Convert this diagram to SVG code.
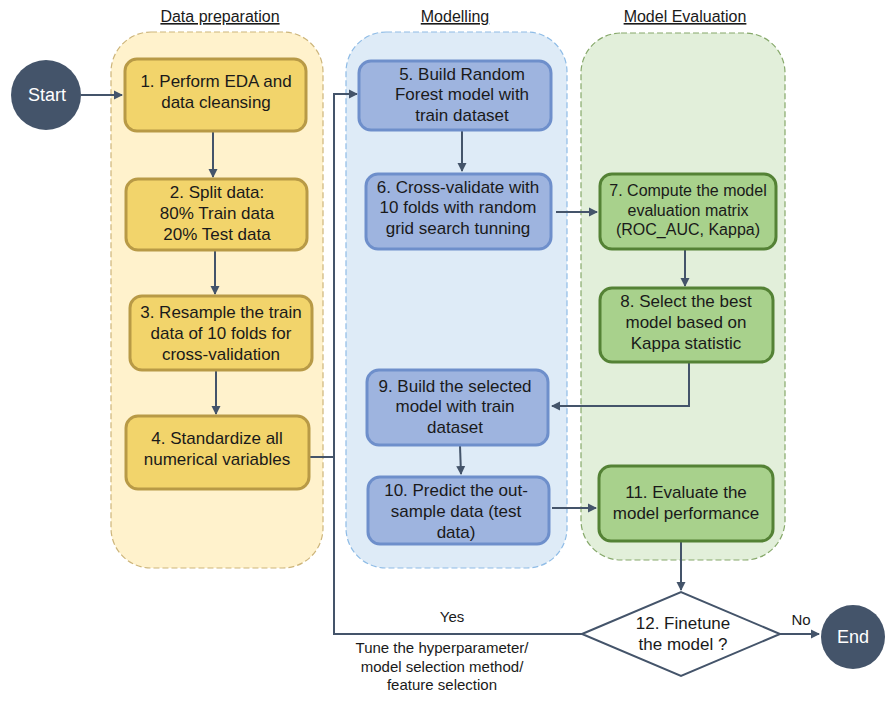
<svg xmlns="http://www.w3.org/2000/svg" width="889" height="703" viewBox="0 0 889 703">
  <defs>
    <marker id="arr" markerWidth="10" markerHeight="10" refX="8" refY="5" orient="auto" markerUnits="userSpaceOnUse">
      <path d="M0,0.5 L9,5 L0,9.5 Z" fill="#44546A"/>
    </marker>
    <style>
      text { font-family: "Liberation Sans", Arial, sans-serif; fill: #1a1a1a; text-anchor: middle; }
      .t { font-size: 17px; }
      .s { font-size: 16px; }
      .lbl { font-size: 15px; }
      .title { font-size: 16px; text-decoration: underline; }
      .term { font-size: 18px; fill: #ffffff; }
      .panel { stroke-width: 1.2; stroke-dasharray: 6 3; }
      .yel { fill: #F2D46B; stroke: #B89A46; stroke-width: 3; }
      .blu { fill: #9EB4DF; stroke: #6E8FCB; stroke-width: 3; }
      .grn { fill: #A8D18C; stroke: #548235; stroke-width: 3; }
      .conn path, .conn line { fill: none; stroke: #44546A; stroke-width: 2; }
    </style>
  </defs>

  <rect width="889" height="703" fill="#ffffff"/>

  <!-- swimlane panels -->
  <g id="lane-prep">
    <rect class="panel" x="111" y="32" width="212" height="536" rx="40" fill="#FFF2CC" stroke="#CDB57A"/>
    <text class="title" x="220" y="22">Data preparation</text>
  </g>
  <g id="lane-model">
    <rect class="panel" x="346" y="32" width="221" height="536" rx="40" fill="#DEEBF7" stroke="#8FBCE6"/>
    <text class="title" x="455" y="22">Modelling</text>
  </g>
  <g id="lane-eval">
    <rect class="panel" x="581" y="33" width="204" height="527" rx="40" fill="#E2EFDA" stroke="#86A86A"/>
    <text class="title" x="685" y="22">Model Evaluation</text>
  </g>

  <!-- connectors -->
  <g id="connectors" class="conn">
    <line x1="81" y1="95" x2="122" y2="95" marker-end="url(#arr)"/>
    <line x1="213" y1="131" x2="213" y2="177" marker-end="url(#arr)"/>
    <line x1="215" y1="250" x2="215" y2="294" marker-end="url(#arr)"/>
    <line x1="216" y1="370" x2="216" y2="414" marker-end="url(#arr)"/>
    <path d="M309,457 H334"/>
    <path d="M582,634 H334 V94 H357" marker-end="url(#arr)"/>
    <line x1="462" y1="130" x2="462" y2="171" marker-end="url(#arr)"/>
    <line x1="556" y1="212" x2="597" y2="212" marker-end="url(#arr)"/>
    <line x1="685" y1="249" x2="685" y2="286" marker-end="url(#arr)"/>
    <path d="M689,362 V406 H552" marker-end="url(#arr)"/>
    <line x1="460" y1="446" x2="461" y2="474" marker-end="url(#arr)"/>
    <line x1="552" y1="508" x2="596" y2="508" marker-end="url(#arr)"/>
    <line x1="681" y1="542" x2="681" y2="590" marker-end="url(#arr)"/>
    <line x1="780" y1="634" x2="819" y2="634" marker-end="url(#arr)"/>
    <text class="lbl" x="452" y="622">Yes</text>
    <text class="lbl" x="801" y="625">No</text>
    <text class="lbl" x="442" y="653">Tune the hyperparameter/</text>
    <text class="lbl" x="442" y="672">model selection method/</text>
    <text class="lbl" x="442" y="690">feature selection</text>
  </g>

  <!-- terminals -->
  <g id="start">
    <circle cx="46" cy="95" r="35" fill="#44546A"/>
    <text class="term" x="47" y="101">Start</text>
  </g>
  <g id="end">
    <circle cx="853" cy="637" r="32" fill="#44546A"/>
    <text class="term" x="853" y="643">End</text>
  </g>

  <!-- data preparation steps -->
  <g id="n1">
    <rect class="yel" x="125" y="59" width="181" height="72" rx="12"/>
    <text class="t" x="216" y="87">1. Perform EDA and</text>
    <text class="t" x="216" y="108">data cleansing</text>
  </g>
  <g id="n2">
    <rect class="yel" x="126" y="179" width="181" height="71" rx="12"/>
    <text class="t" x="217" y="198">2. Split data:</text>
    <text class="t" x="217" y="219">80% Train data</text>
    <text class="t" x="217" y="240">20% Test data</text>
  </g>
  <g id="n3">
    <rect class="yel" x="130" y="296" width="182" height="74" rx="12"/>
    <text class="t" x="221" y="318">3. Resample the train</text>
    <text class="t" x="221" y="339">data of 10 folds for</text>
    <text class="t" x="221" y="360">cross-validation</text>
  </g>
  <g id="n4">
    <rect class="yel" x="126" y="416" width="183" height="73" rx="12"/>
    <text class="t" x="217" y="444">4. Standardize all</text>
    <text class="t" x="217" y="465">numerical variables</text>
  </g>

  <!-- modelling steps -->
  <g id="n5">
    <rect class="blu" x="359" y="61" width="192" height="69" rx="12"/>
    <text class="t" x="462" y="80">5. Build Random</text>
    <text class="t" x="462" y="100">Forest model with</text>
    <text class="t" x="462" y="121">train dataset</text>
  </g>
  <g id="n6">
    <rect class="blu" x="366" y="174" width="185" height="75" rx="12"/>
    <text class="t" x="458" y="193">6. Cross-validate with</text>
    <text class="t" x="458" y="213">10 folds with random</text>
    <text class="t" x="458" y="234">grid search tunning</text>
  </g>
  <g id="n9">
    <rect class="blu" x="367" y="370" width="181" height="75" rx="12"/>
    <text class="t" x="455" y="392">9. Build the selected</text>
    <text class="t" x="455" y="412">model with train</text>
    <text class="t" x="455" y="433">dataset</text>
  </g>
  <g id="n10">
    <rect class="blu" x="368" y="477" width="181" height="67" rx="12"/>
    <text class="t" x="456" y="496">10. Predict the out-</text>
    <text class="t" x="456" y="517">sample data (test</text>
    <text class="t" x="456" y="538">data)</text>
  </g>

  <!-- evaluation steps -->
  <g id="n7">
    <rect class="grn" x="600" y="174" width="176" height="75" rx="12"/>
    <text class="s" x="688" y="196">7. Compute the model</text>
    <text class="s" x="688" y="216">evaluation matrix</text>
    <text class="s" x="688" y="235">(ROC_AUC, Kappa)</text>
  </g>
  <g id="n8">
    <rect class="grn" x="600" y="288" width="173" height="74" rx="12"/>
    <text class="t" x="686" y="307">8. Select the best</text>
    <text class="t" x="686" y="328">model based on</text>
    <text class="t" x="686" y="349">Kappa statistic</text>
  </g>
  <g id="n11">
    <rect class="grn" x="599" y="466" width="174" height="75" rx="12"/>
    <text class="t" x="686" y="498">11. Evaluate the</text>
    <text class="t" x="686" y="519">model performance</text>
  </g>

  <!-- decision -->
  <g id="n12">
    <polygon points="582,634 681,592 780,634 681,676" fill="#ffffff" stroke="#44546A" stroke-width="2"/>
    <text class="t" x="683" y="629">12. Finetune</text>
    <text class="t" x="683" y="650">the model ?</text>
  </g>
</svg>
